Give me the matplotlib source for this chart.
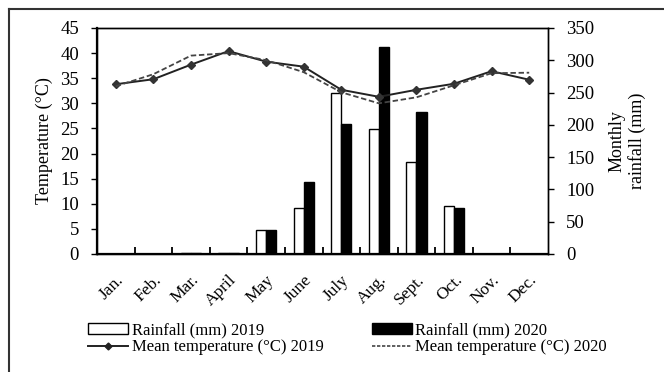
import matplotlib
matplotlib.use("Agg")
import matplotlib.pyplot as plt
import numpy as np
from matplotlib.patches import Patch
from matplotlib.lines import Line2D

months = ["Jan.", "Feb.", "Mar.", "April", "May", "June", "July", "Aug.", "Sept.", "Oct.", "Nov.", "Dec."]
rain_2019 = [0, 0, 2, 2, 37, 72, 250, 193, 143, 75, 0, 0]
rain_2020 = [0, 0, 2, 2, 37, 112, 202, 320, 220, 71, 0, 0]
temp_2019 = [33.8, 34.8, 37.7, 40.4, 38.3, 37.3, 32.7, 31.3, 32.7, 33.9, 36.4, 34.7]
temp_2020 = [33.4, 35.8, 39.5, 40.0, 38.6, 36.2, 32.2, 30.0, 31.2, 33.6, 36.0, 36.1]

plt.rcParams['font.family'] = ['Liberation Serif', 'DejaVu Serif']

fig = plt.figure(figsize=(6.64, 3.72), dpi=100)
ax = fig.add_axes([97/664, 1-254/372, (548-97)/664, (254-28)/372])
ax2 = ax.twinx()

x = np.arange(len(months))
w = 0.27
ax2.bar(x - w/2, rain_2019, width=w, color="white", edgecolor="black", linewidth=1.0, zorder=2)
ax2.bar(x + w/2, rain_2020, width=w, color="black", edgecolor="black", linewidth=1.0, zorder=2)
ax2.set_ylim(0, 350)
ax2.set_yticks(range(0, 351, 50))

ax.set_zorder(ax2.get_zorder() + 1)
ax.patch.set_visible(False)
ax.plot(x, temp_2019, color="#222222", lw=1.4, marker="D", ms=4.5, mfc="#333333", mec="#333333", zorder=3)
ax.plot(x, temp_2020, color="#444444", lw=1.3, ls=(0, (3, 1.5)), zorder=3)
ax.set_ylim(0, 45)
ax.set_yticks(range(0, 46, 5))
ax.set_xlim(-0.5, 11.5)
ax.set_xticks(x)
ax.set_xticklabels(months, rotation=45, ha="right", rotation_mode="anchor", fontsize=12.5)
ax.tick_params(axis="x", length=0, pad=13)
ax.set_xticks(np.arange(0.5, 11, 1), minor=True)
ax.tick_params(axis="x", which="minor", direction="in", length=5, width=1.3)
ax.tick_params(axis="y", labelsize=13.5, length=4, width=1, direction="out", pad=9)
ax2.tick_params(axis="y", labelsize=13.5, length=4, width=1, direction="out", pad=9)
ax.set_ylabel("Temperature (°C)", fontsize=13, labelpad=5)
ax2.set_ylabel("Monthly\nrainfall (mm)", fontsize=13, labelpad=10)

for a in (ax, ax2):
    for s in a.spines.values():
        s.set_linewidth(1.0)
ax.spines["left"].set_linewidth(1.6)
ax.spines["bottom"].set_linewidth(1.6)

# outer frame
fig.add_artist(Line2D([9/664, 1.0], [1-9/372, 1-9/372], color="#333333", lw=1.5, transform=fig.transFigure))
fig.add_artist(Line2D([9/664, 9/664], [0, 1-9/372], color="#333333", lw=1.5, transform=fig.transFigure))

handles = [
    Patch(facecolor="white", edgecolor="black", linewidth=1.0, label="Rainfall (mm) 2019"),
    Line2D([], [], color="#222222", lw=1.4, marker="D", ms=3.5, label="Mean temperature (°C) 2019"),
    Patch(facecolor="black", edgecolor="black", label="Rainfall (mm) 2020"),
    Line2D([], [], color="#444444", lw=1.2, ls=(0, (2, 1)), label="Mean temperature (°C) 2020"),
]
fig.legend(handles=handles, ncol=2, loc="center left", bbox_to_anchor=(80/664, 1-339/372),
           frameon=False, fontsize=12, handlelength=2.4, handleheight=0.6,
           handletextpad=0.2, columnspacing=2.9, labelspacing=0.05, borderpad=0)

fig.savefig("out.png", dpi=100)
